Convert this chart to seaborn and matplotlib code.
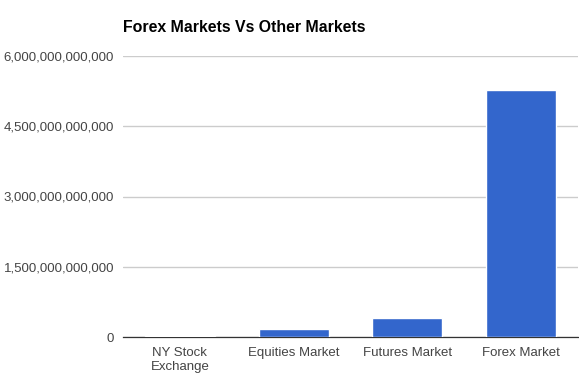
import matplotlib
matplotlib.use("Agg")
import matplotlib.pyplot as plt
import seaborn as sns
import pandas as pd
from matplotlib.ticker import FuncFormatter

categories = ["NY Stock\nExchange", "Equities Market", "Futures Market", "Forex Market"]
values = [3.0e10, 1.7e11, 4.1e11, 5.28e12]
yticks = [0, 1.5e12, 3.0e12, 4.5e12, 6.0e12]

sns.set_style("white")
plt.rcParams['font.family'] = ['Liberation Sans', 'DejaVu Sans']

df = pd.DataFrame({"market": categories, "value": values})

fig = plt.figure(figsize=(5.79, 3.82), dpi=100)
ax = fig.add_axes([123/579, 45/382, 455/579, 281/382])

sns.barplot(data=df, x="market", y="value", color="#3366cc", saturation=1,
            width=0.614, ax=ax, zorder=3)

ax.set_xlim(-0.5, 3.5)
ax.set_ylim(0, 6.0e12)
ax.set_yticks(yticks)
ax.yaxis.set_major_formatter(FuncFormatter(lambda v, p: f"{int(round(v)):,}"))
ax.grid(axis="y", color="#cccccc", linewidth=1, zorder=0)
ax.set_axisbelow(True)
for s in ["top", "right", "left"]:
    ax.spines[s].set_visible(False)
ax.spines["bottom"].set_color("#333333")
ax.spines["bottom"].set_linewidth(0.9)
ax.spines["bottom"].set_zorder(2)
ax.tick_params(axis="both", length=0, labelsize=9.5, labelcolor="#444444")
ax.tick_params(axis="y", pad=6.5)
ax.tick_params(axis="x", pad=7)
ax.set_xlabel("")
ax.set_ylabel("")

fig.text(123/579, 1 - 27/382, "Forex Markets Vs Other Markets", fontsize=11.4,
         fontweight="bold", color="#000000", ha="left", va="center")

fig.savefig("out.png", dpi=100)
